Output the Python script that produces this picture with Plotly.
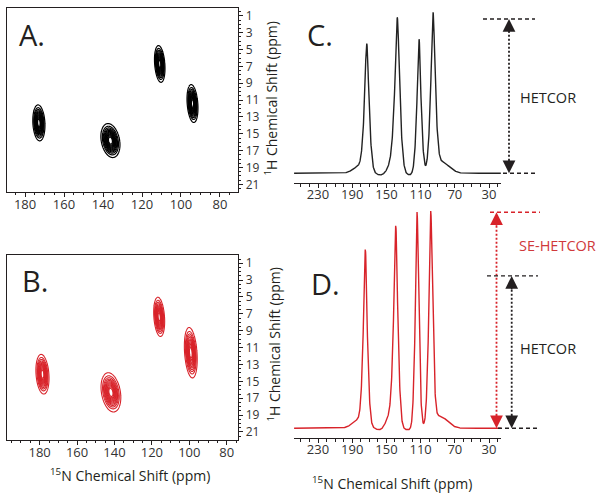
import numpy as np
import plotly.graph_objects as go

W, H = 604, 499
INK = "#231f20"
RED = "#d8232a"
FONT = "Open Sans"

# ---------------- data ----------------
# 2D HETCOR (panel A): 15N shift, 1H shift, widths (ppm), tilt
a_n = [172.9, 136.2, 110.9, 94.1]
a_h = [13.7, 15.8, 6.7, 11.4]
a_sn = [1.3, 2.0, 1.1, 1.15]
a_sh = [0.9, 0.85, 0.92, 0.95]
a_tilt = [0.2, 0.6, 0.3, 0.3]

# 2D SE-HETCOR (panel B)
b_n = [178.5, 141.9, 116.1, 99.2]
b_h = [14.15, 16.3, 7.35, 11.6]
b_sn = [1.45, 2.15, 1.2, 1.4]
b_sh = [0.99, 0.98, 0.98, 1.26]
b_tilt = [0.3, 0.6, 0.3, 0.3]

# 1D projections: peak positions (ppm), heights, widths (ppm)
c_pos = [173.0, 137.3, 111.9, 95.5]
c_height = [0.806, 0.99, 0.869, 1.0]
c_width = [3.3, 3.6, 3.0, 3.3]
c_broad_pos = [180.0, 144.0, 157.0, 123.0, 86.0]
c_broad_h = [0.05, 0.06, -0.012, -0.01, 0.075]
c_broad_w = [8.0, 4.5, 5.0, 3.5, 9.0]

d_pos = [174.7, 139.1, 114.2, 98.2]
d_height = [1.13, 1.305, 1.418, 1.384]
d_width = [2.9, 3.1, 2.6, 2.8]
d_broad_pos = [181.0, 146.0, 158.0, 125.0, 88.0]
d_broad_h = [0.06, 0.08, -0.012, -0.01, 0.08]
d_broad_w = [8.0, 4.5, 5.0, 3.5, 9.0]

n_ticks_2d = [180, 160, 140, 120, 100, 80]
h_ticks = list(range(1, 22, 2))
n_ticks_1d = [230, 190, 150, 110, 70, 30]


def px(x):
    return x / W


def py(y):
    return 1 - y / H


def peak2d(x0, y0, sx, sy, k):
    xs = np.arange(x0 - 9, x0 + 9, 0.15)
    ys = np.arange(y0 - 4.5, y0 + 4.5, 0.06)
    X, Y = np.meshgrid(xs, ys)
    dx = X - x0 + k * (Y - y0)
    dy = Y - y0
    Z = np.exp(-dx ** 2 / (2 * sx ** 2) - dy ** 2 / (2 * sy ** 2))
    return xs.round(3), ys.round(3), Z.round(4)


def spectrum(xg, pos, hts, wid, bpos, bh, bw):
    y = np.zeros_like(xg)
    for p, h, w in zip(pos, hts, wid):
        d = xg - p
        y += h * (0.65 * np.exp(-d ** 2 / (2 * w ** 2)) + 0.35 * np.exp(-d ** 2 / (2 * (0.45 * w) ** 2)))
    for p, h, w in zip(bpos, bh, bw):
        y += h * np.exp(-(xg - p) ** 2 / (2 * w ** 2))
    return y


fig = go.Figure()

# Panel A contours
for x0, y0, sx, sy, k in zip(a_n, a_h, a_sn, a_sh, a_tilt):
    xs, ys, Z = peak2d(x0, y0, sx, sy, k)
    fig.add_trace(go.Contour(x=xs, y=ys, z=Z, xaxis="x", yaxis="y",
                             contours=dict(coloring="lines", start=0.06, end=0.95, size=0.075),
                             colorscale=[[0, "black"], [1, "black"]], showscale=False,
                             line=dict(width=1.2), hoverinfo="skip"))
# Panel B contours
for x0, y0, sx, sy, k in zip(b_n, b_h, b_sn, b_sh, b_tilt):
    xs, ys, Z = peak2d(x0, y0, sx, sy, k)
    fig.add_trace(go.Contour(x=xs, y=ys, z=Z, xaxis="x2", yaxis="y2",
                             contours=dict(coloring="lines", start=0.06, end=0.95, size=0.075),
                             colorscale=[[0, RED], [1, RED]], showscale=False,
                             line=dict(width=1.1), hoverinfo="skip"))

xg = np.arange(258.0, 16.0, -0.2)
c_spec = spectrum(xg, c_pos, c_height, c_width, c_broad_pos, c_broad_h, c_broad_w)
d_spec = spectrum(xg, d_pos, d_height, d_width, d_broad_pos, d_broad_h, d_broad_w)
fig.add_trace(go.Scatter(x=xg.round(2), y=c_spec.round(4), xaxis="x3", yaxis="y3", mode="lines",
                         line=dict(color="#222222", width=1.4), hoverinfo="skip"))
fig.add_trace(go.Scatter(x=xg.round(2), y=d_spec.round(4), xaxis="x4", yaxis="y4", mode="lines",
                         line=dict(color=RED, width=1.4), hoverinfo="skip"))

tickfont = dict(family=FONT, size=13, color="#333333")
ytickfont = dict(family=FONT, size=12, color="#333333")


def ax2d(domain, rng, anchor):
    return dict(domain=domain, range=rng, anchor=anchor, showline=True, linecolor=INK, linewidth=1,
                mirror=True, ticks="outside", ticklen=4, tickcolor=INK, tickvals=n_ticks_2d,
                minor=dict(dtick=5, tick0=0, ticks="outside", ticklen=2.5, tickcolor=INK),
                showgrid=False, zeroline=False, tickfont=tickfont, ticklabelstandoff=-4)


def ay2d(domain, rng, anchor):
    return dict(domain=domain, range=rng, anchor=anchor, side="right", showline=True, linecolor=INK,
                linewidth=1, mirror=True, ticks="outside", ticklen=4, tickcolor=INK, tickvals=h_ticks,
                minor=dict(dtick=0.5, tick0=0, ticks="outside", ticklen=2, tickcolor=INK),
                showgrid=False, zeroline=False, tickfont=ytickfont)


def ax1d(domain, anchor):
    return dict(domain=domain, range=[258.1, 16.0], anchor=anchor, showline=True, linecolor=INK,
                linewidth=1, ticks="outside", ticklen=4, tickcolor=INK, tickvals=n_ticks_1d,
                minor=dict(dtick=10, tick0=0, ticks="outside", ticklen=3, tickcolor=INK),
                showgrid=False, zeroline=False, tickfont=tickfont, ticklabelstandoff=-5)


xA = [px(7.3), px(238.3)]
yA = [py(191.7), py(6.7)]
yB = [py(440.7), py(255)]
xC = [px(294), px(501)]
yC = [py(183), py(10)]
yD = [py(439), py(205)]

fig.update_layout(
    width=W, height=H, margin=dict(l=0, r=0, t=0, b=0),
    paper_bgcolor="white", plot_bgcolor="rgba(0,0,0,0)", showlegend=False,
    xaxis=ax2d(xA, [189.1, 70.6], "y"),
    yaxis=ay2d(yA, [21.9, 0.02], "x"),
    xaxis2=ax2d(xA, [197.3, 73.8], "y2"),
    yaxis2=ay2d(yB, [21.94, 0.02], "x2"),
    xaxis3=ax1d(xC, "y3"),
    yaxis3=dict(domain=yC, range=[-0.0645, 1.0516], visible=False, anchor="x3"),
    xaxis4=ax1d(xC, "y4"),
    yaxis4=dict(domain=yD, range=[-0.0654, 1.464], visible=False, anchor="x4"),
)

c_top = max(c_height)
d_top = max(d_height)

shapes = []
ann = []


def hline(x0, x1, yv, yref, color):
    shapes.append(dict(type="line", xref="paper", yref=yref, x0=px(x0), x1=px(x1), y0=yv, y1=yv,
                       line=dict(color=color, width=1.4, dash="4px,3px")))


def vline(xp, y0, y1, yref, color):
    shapes.append(dict(type="line", xref="paper", yref=yref, x0=px(xp), x1=px(xp), y0=y0, y1=y1,
                       line=dict(color=color, width=1.8, dash="2px,2px")))


def head(xp, yv, yref, color, up=True):
    ann.append(dict(x=px(xp), y=yv, xref="paper", yref=yref, text="", showarrow=True,
                    ax=0, ay=15 if up else -15, arrowhead=2, arrowsize=1.7, arrowwidth=1.5,
                    arrowcolor=color))


# Panel C arrow (HETCOR)
hline(483, 535, c_top, "y3", INK)
hline(503, 535, 0, "y3", INK)
vline(509, 0.03, c_top - 0.03, "y3", INK)
head(509, c_top, "y3", INK, True)
head(509, 0, "y3", INK, False)

# Panel D arrows
hline(490, 540, d_top, "y4", RED)
vline(496.5, 0.03, d_top - 0.03, "y4", RED)
head(496.5, d_top, "y4", RED, True)
head(496.5, 0, "y4", RED, False)
hline(487, 538, c_top, "y4", INK)
hline(498, 538, 0, "y4", INK)
vline(511.7, 0.03, c_top - 0.03, "y4", INK)
head(511.7, c_top, "y4", INK, True)
head(511.7, 0, "y4", INK, False)


def text(x, y, s, size, color=INK, xanchor="left", angle=0):
    ann.append(dict(x=px(x), y=py(y), xref="paper", yref="paper", text=s, showarrow=False,
                    xanchor=xanchor, yanchor="middle", textangle=angle,
                    font=dict(family=FONT, size=size, color=color)))


text(17, 34, "A.", 29)
text(20, 281, "B.", 29)
text(305, 34, "C.", 29)
text(309, 284, "D.", 29)
text(518, 97, "HETCOR", 14.5)
text(518, 349, "HETCOR", 14.5)
text(517, 245, "SE-HETCOR", 14.5, color="#d0393b")
text(271, 98, "<sup>1</sup>H Chemical Shift (ppm)", 14, xanchor="center", angle=-90)
text(274, 345, "<sup>1</sup>H Chemical Shift (ppm)", 14, xanchor="center", angle=-90)
text(130, 476, "<sup>15</sup>N Chemical Shift (ppm)", 14, xanchor="center")
text(392, 484, "<sup>15</sup>N Chemical Shift (ppm)", 14, xanchor="center")

fig.update_layout(shapes=shapes, annotations=ann)
fig.write_html("out.html", config={"displayModeBar": False},
               post_script="document.body.style.margin='0';document.body.style.overflow='hidden';")
